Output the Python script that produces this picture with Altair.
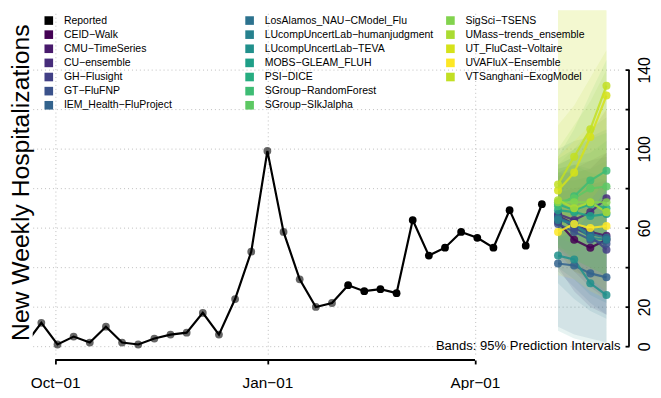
import altair as alt
import pandas as pd

# ---------------- data ----------------
reported_start = "2021-09-18"          # weekly (Saturday) observations
reported_values = [1, 12, 1, 5, 2, 10, 2, 1, 4, 6, 7, 17, 6, 24, 48, 99, 58, 34, 20, 22,
                   31, 28, 29, 27, 64, 46, 50, 58, 55, 50, 69, 51, 72]

forecast_dates = ["2022-05-07", "2022-05-14", "2022-05-21", "2022-05-28"]

models = ["CEID-Walk", "CMU-TimeSeries", "CU-ensemble", "GH-Flusight", "GT-FluFNP",
          "IEM_Health-FluProject", "LosAlamos_NAU-CModel_Flu", "LUcompUncertLab-humanjudgment",
          "LUcompUncertLab-TEVA", "MOBS-GLEAM_FLUH", "PSI-DICE", "SGroup-RandomForest",
          "SGroup-SIkJalpha", "SigSci-TSENS", "UMass-trends_ensemble", "UT_FluCast-Voltaire",
          "UVAFluX-Ensemble", "VTSanghani-ExogModel"]

model_colors = ["#440154", "#481A6C", "#472D7B", "#424086", "#3B528B", "#33638D",
                "#2C728E", "#26818E", "#21908C", "#1F9F88", "#27AD81", "#3EBC74",
                "#5DC863", "#82D34D", "#AADC32", "#D5E21A", "#FDE725", "#C2DF23"]

median = [
    [63, 54, 50, 54],
    [66, 62, 58, 56],
    [67, 64, 68, 75],
    [66, 60, 56, 49],
    [62, 58, 54, 52],
    [42, 41, 37, 35],
    [65, 62, 57, 55],
    [64, 62, 55, 54],
    [46, 44, 32, 26],
    [69, 68, 66, 67],
    [72, 69, 72, 70],
    [71, 76, 84, 89],
    [73, 75, 80, 81],
    [73, 73, 73, 73],
    [74, 70, 73, 68],
    [79, 88, 106, 127],
    [58, 62, 60, 61],
    [82, 96, 110, 132],
]
lower95 = [
    [40, 28, 20, 16],
    [48, 38, 30, 24],
    [45, 38, 35, 35],
    [50, 40, 32, 24],
    [38, 30, 22, 16],
    [10, 6, 4, 2],
    [32, 24, 18, 14],
    [40, 34, 26, 22],
    [8, 4, 2, 1],
    [50, 44, 40, 36],
    [52, 44, 40, 36],
    [50, 48, 50, 52],
    [55, 52, 54, 52],
    [50, 44, 40, 36],
    [48, 38, 34, 28],
    [55, 58, 68, 80],
    [36, 34, 28, 24],
    [60, 66, 74, 84],
]
upper95 = [
    [88, 88, 90, 98],
    [86, 90, 94, 98],
    [92, 96, 108, 120],
    [84, 84, 86, 84],
    [90, 92, 94, 96],
    [78, 80, 82, 84],
    [100, 104, 106, 110],
    [88, 92, 90, 94],
    [90, 92, 88, 86],
    [92, 96, 98, 104],
    [95, 100, 105, 108],
    [96, 110, 128, 145],
    [92, 100, 110, 116],
    [100, 112, 124, 140],
    [112, 122, 136, 150],
    [200, 230, 260, 290],
    [96, 104, 112, 120],
    [180, 200, 230, 260],
]

x_tick_dates = [(2021, 10, 1), (2022, 1, 1), (2022, 4, 1)]
y_ticks = [0, 20, 40, 60, 80, 100, 120, 140]
y_labels_shown = [0, 20, 60, 100, 140]
y_title = "New Weekly Hospitalizations"
band_note = "Bands: 95% Prediction Intervals"
reported_name = "Reported"

# ---------------- frames ----------------
rep_df = pd.DataFrame({
    "date": pd.date_range(reported_start, periods=len(reported_values), freq="7D"),
    "value": reported_values,
})

med_rows, band_rows = [], []
for m, med, lo, hi in zip(models, median, lower95, upper95):
    for d, v, l, h in zip(forecast_dates, med, lo, hi):
        med_rows.append({"model": m, "date": pd.Timestamp(d), "value": v})
        band_rows.append({"model": m, "date": pd.Timestamp(d), "lo": l, "hi": h})
med_df = pd.DataFrame(med_rows)
band_df = pd.DataFrame(band_rows)

# legend: 3 columns (7, 7, 5 entries); one blank slot keeps the last row aligned
col1 = [reported_name] + models[0:6]
col2 = models[6:13]
col3 = models[13:]
blank = " "
legend_order = col1 + col2 + col3 + [blank]
color_lookup = dict(zip(models, model_colors))
color_lookup[reported_name] = "#000000"
color_lookup[blank] = "transparent"
legend_colors = [color_lookup[k] for k in legend_order]

# ---------------- layout ----------------
W, H = 595, 348
FONT = "Liberation Sans"
GRID = dict(gridDash=[1, 3], gridColor="#BEBEBE", gridWidth=1)

x_scale = alt.Scale(domain=[alt.DateTime(year=2021, month=9, date=21, hours=6),
                            alt.DateTime(year=2022, month=6, date=3, hours=1)], nice=False)
y_scale = alt.Scale(domain=[-3.85, 170.15], nice=False, zero=False)
color_scale = alt.Scale(domain=legend_order, range=legend_colors)
x_vals = [alt.DateTime(year=y, month=m, date=d) for (y, m, d) in x_tick_dates]

# bands (carry grid axes + left title)
bands = alt.Chart(band_df).mark_area(opacity=0.11, clip=True).encode(
    x=alt.X("date:T", scale=x_scale,
            axis=alt.Axis(orient="top", values=x_vals, grid=True, labels=False, ticks=False,
                          domain=False, title=None, **GRID)),
    y=alt.Y("lo:Q", scale=y_scale,
            axis=alt.Axis(orient="left", values=y_ticks, grid=True, labels=False, ticks=False,
                          domain=False, title=y_title, titleFont=FONT, titleFontSize=25,
                          titleFontWeight="normal", titleColor="black", titlePadding=-0.5, **GRID)),
    y2="hi:Q",
    color=alt.Color("model:N", scale=color_scale, legend=None),
)

f_lines = alt.Chart(med_df).mark_line(strokeWidth=2.2, opacity=0.85, clip=True).encode(
    x=alt.X("date:T", scale=x_scale, axis=None),
    y=alt.Y("value:Q", scale=y_scale, axis=None),
    color=alt.Color("model:N", scale=color_scale, legend=None),
)

f_points = alt.Chart(med_df).mark_circle(size=66, opacity=0.85, clip=True).encode(
    x=alt.X("date:T", scale=x_scale, axis=None),
    y=alt.Y("value:Q", scale=y_scale, axis=None),
    color=alt.Color("model:N", scale=color_scale, legend=alt.Legend(
        orient="none", legendX=11, legendY=5, columns=3, gridAlign="all",
        columnPadding=11.3, rowPadding=3.3, padding=0, title=None,
        symbolType="square", symbolSize=76, symbolStrokeWidth=0, symbolOpacity=1,
        labelFont=FONT, labelFontSize=10.6, labelColor="black", labelOffset=10, labelLimit=400,
        labelExpr="replace(datum.label, regexp('-', 'g'), '\u2212')")),
)

rep_line = alt.Chart(rep_df).mark_line(color="black", strokeWidth=2.2, clip=True).encode(
    x=alt.X("date:T", scale=x_scale,
            axis=alt.Axis(orient="bottom", offset=6, values=x_vals, format="%b\u2212%d",
                          domain=False, grid=False, tickSize=4, tickWidth=1.8, tickColor="black",
                          labelFont=FONT, labelFontSize=15.5, labelColor="black", labelPadding=12,
                          labelFlush=False, labelOverlap=False, title=None)),
    y=alt.Y("value:Q", scale=y_scale,
            axis=alt.Axis(orient="right", offset=4.7, values=y_ticks, domain=False, grid=False,
                          tickSize=4, tickWidth=1.8, tickColor="black",
                          labelExpr="indexof(%s, datum.value) >= 0 ? datum.label : ''" % str(y_labels_shown),
                          labelAngle=270, labelAlign="center", labelBaseline="top", labelPadding=8,
                          labelFont=FONT, labelFontSize=16, labelColor="black",
                          labelFlush=False, labelOverlap=False, title=None)),
)

rep_points = alt.Chart(rep_df).mark_circle(size=62, color="black", clip=True).encode(
    x=alt.X("date:T", scale=x_scale, axis=None),
    y=alt.Y("value:Q", scale=y_scale, axis=None),
    opacity=alt.condition(
        alt.FieldLTPredicate(field="date", lt=alt.DateTime(year=2022, month=2, date=1)),
        alt.value(0.6), alt.value(1.0)),
)

note = alt.Chart(alt.Data(values=[{}])).mark_text(
    align="right", baseline="middle", font=FONT, fontSize=13.2, color="black"
).encode(
    x=alt.XDatum(alt.DateTime(year=2022, month=6, date=3, hours=1), type="temporal",
                 scale=x_scale, axis=None),
    y=alt.YDatum(0, type="quantitative", scale=y_scale, axis=None),
    text=alt.value(band_note),
)

x_domain_line = alt.Chart(alt.Data(values=[{}])).mark_rule(color="black", strokeWidth=1.8).encode(
    x=alt.XDatum(x_vals[0], type="temporal", scale=x_scale, axis=None),
    x2=alt.X2Datum(x_vals[-1]),
    y=alt.value(H + 6),
)
y_domain_line = alt.Chart(alt.Data(values=[{}])).mark_rule(color="black", strokeWidth=1.8).encode(
    y=alt.YDatum(y_ticks[0], type="quantitative", scale=y_scale, axis=None),
    y2=alt.Y2Datum(y_ticks[-1]),
    x=alt.value(W + 8.7),
)

chart = alt.layer(
    bands, f_lines, f_points, rep_line, rep_points, note, x_domain_line, y_domain_line
).resolve_scale(
    x="shared", y="shared", color="shared"
).resolve_axis(
    x="independent", y="independent"
).resolve_legend(
    color="independent"
).properties(
    width=W, height=H,
    autosize=alt.AutoSizeParams(type="none"),
    padding={"left": 25, "top": 0, "right": 33, "bottom": 34},
    background="white",
).configure_view(stroke=None)

chart.save("out.html", embed_options={"renderer": "svg", "actions": False})
